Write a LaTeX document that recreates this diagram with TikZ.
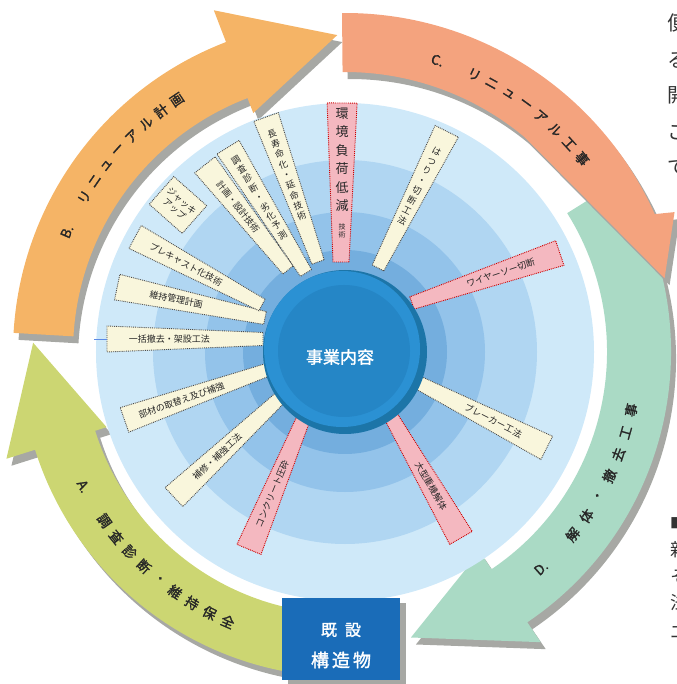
\documentclass[tikz,border=0pt]{standalone}
\usepackage{fontspec}
\setmainfont{Noto Sans CJK JP}
\newfontfamily\jpheavy{Noto Sans CJK JP}[FakeBold=1.6]

\definecolor{stageA}{HTML}{CCD672}
\definecolor{stageB}{HTML}{F5B466}
\definecolor{stageC}{HTML}{F4A37E}
\definecolor{stageD}{HTML}{AADAC5}
\definecolor{dropgray}{HTML}{A7A8A4}
\definecolor{ringA}{HTML}{CFE9F9}
\definecolor{ringB}{HTML}{B0D6F2}
\definecolor{ringC}{HTML}{93C3EA}
\definecolor{ringD}{HTML}{74AEDE}
\definecolor{hubrim}{HTML}{1C75A8}
\definecolor{hubouter}{HTML}{2B91D3}
\definecolor{hubinner}{HTML}{2586C6}
\definecolor{creamfill}{HTML}{F9F6DC}
\definecolor{pinkfill}{HTML}{F4B8C0}
\definecolor{hostblue}{HTML}{1A6CB8}

\tikzset{
  creamray/.style={fill=creamfill, draw=black!70, densely dotted, line width=0.9pt},
  pinkray/.style={fill=pinkfill, draw=red!80!black, densely dotted, line width=0.9pt},
  rayfont/.style={font=\myfontrays, align=center, inner sep=0pt, text=black!85},
  stagefont/.style={font=\myfontstages, inner sep=0pt, text=black!85},
  leaderline/.style={draw=ringD!80!blue, line width=0.8pt},
  pagefont/.style={font=\myfontpage, anchor=west, inner sep=0pt, text=black!80}
}

\begin{document}
\begin{tikzpicture}[x=1pt, y=1pt]
		\newcommand{\myfontrays}{\fontsize{9}{11}\selectfont}
		\newcommand{\myfontstages}{\jpheavy\fontsize{13.5}{13.5}\selectfont}
		\newcommand{\myfontpage}{\fontsize{20}{20}\selectfont}
		\useasboundingbox (-345,-332) rectangle (331,352);
		%Stage arrows, each one drawn twice: grey shadow, then colour
		%A: from below the box up to the left
		\foreach \dx/\dy/\col in {5/-7/dropgray, 0/0/stageA} {
			\fill[\col, shift={(\dx,\dy)}] (265:325) arc[start angle=265, end angle=197.5, radius=325]
				-- (197.5:355) -- (178.3:312) -- (197.5:250) -- (197.5:262)
				arc[start angle=197.5, end angle=265, radius=262] -- cycle;
		}
		%B: left side over the top
		\foreach \dx/\dy/\col in {5/-7/dropgray, 0/0/stageB} {
			\fill[\col, shift={(\dx,\dy)}] (176.7:332) arc[start angle=176.7, end angle=111, radius=332]
				-- (111:366) -- (91.4:317) -- (111:256) -- (111:272)
				arc[start angle=111, end angle=176.7, radius=272] -- cycle;
		}
		%D: right side down to the box (tail runs under C)
		\foreach \dx/\dy/\col in {5/-7/dropgray, 0/0/stageD} {
			\fill[\col, shift={(\dx,\dy)}] (32:326) arc[start angle=32, end angle=-56, radius=326]
				-- (-56:350) -- (-77:293) -- (-56:241) -- (-56:262)
				arc[start angle=-56, end angle=32, radius=262] -- cycle;
		}
		%C: top to the right
		\foreach \dx/\dy/\col in {5/-7/dropgray, 0/0/stageC} {
			\fill[\col, shift={(\dx,\dy)}] (90.5:339) arc[start angle=90.5, end angle=24, radius=339]
				-- (23:358) -- (13:328) -- (50:280)
				arc[start angle=50, end angle=90.5, radius=280] -- cycle;
		}
		%Stage names, one glyph at a time along the arcs
		\foreach \ch [count=\i] in {A.,{},調,査,診,断,・,維,持,保,全} {
			\pgfmathsetmacro{\ang}{207.2+(\i-1)*3.93}
			\node[stagefont, rotate=\ang+90] (labA\i) at (\ang:294) {\ch};
		}
		\foreach \ch [count=\i] in {B.,{},リ,ニ,ュ,ー,ア,ル,計,画} {
			\pgfmathsetmacro{\ang}{156.6-(\i-1)*3.66}
			\node[stagefont, rotate=\ang-90] (labB\i) at (\ang:303) {\ch};
		}
		\foreach \ch [count=\i] in {C.,{},リ,ニ,ュ,ー,ア,ル,工,事} {
			\pgfmathsetmacro{\ang}{72.4-(\i-1)*3.69}
			\node[stagefont, rotate=\ang-90] (labC\i) at (\ang:306) {\ch};
		}
		\foreach \ch [count=\i] in {D.,{},解,体,・,撤,去,工,事} {
			\pgfmathsetmacro{\ang}{-47.8+(\i-1)*4.54}
			\node[stagefont, rotate=\ang+90] (labD\i) at (\ang:292) {\ch};
		}
		%Blue disc, outside in
		\fill[ringA] (0,0) circle[radius=249];
		\fill[ringB] (0,0) circle[radius=192];
		\fill[ringC] (0,0) circle[radius=140];
		\fill[ringD] (0,0) circle[radius=102];
		%Rays: inner end, angle, length, look, text turn, text
		\foreach \n/\x/\y/\a/\l/\kind/\turn/\txt in {
			2/33/84/63.3/153/creamray/-90/{は\\つ\\り\\・\\切\\断\\工\\法},
			3/67/49/18.7/156/pinkray/0/{ワイヤーソー切断},
			4/68/-28/-26.9/150/creamray/0/{ブレーカー工法},
			5/41/-56/-60/150/pinkray/0/{大型重機解体},
			6/-38/-58/-112.6/151/pinkray/180/{コンクリート圧砕},
			7/-63/-44/-136.9/148/creamray/180/{補修・補強工法},
			8/-78/-18/-160.7/151/creamray/180/{部材の取替え及び補強},
			9/-82/13/180/156/creamray/180/{一括撤去・架設工法},
			10/-80/34/168.2/151/creamray/180/{維持管理計画},
			11/-83/47/151.8/144/creamray/180/{プレキャスト化技術},
			13/-57/82/128.3/134/creamray/180/{計画・設計技術},
			14/-39/79/121.8/148/creamray/-90/{調\\査\\診\\断\\・\\劣\\化\\予\\測},
			15/-27/90/109.7/154/creamray/-90/{長\\寿\\命\\化\\・\\延\\命\\技\\術}} {
			\begin{scope}[shift={(\x,\y)}, rotate=\a]
				\draw[\kind] (0,-6.5) -- (\l,-13) -- (\l,13) -- (0,6.5) -- cycle;
				\coordinate (rayend\n) at (\l,0);
				\node[rayfont, transform shape, rotate=\turn] (ray\n) at (0.6*\l,0) {\txt};
			\end{scope}
		}
		%Top ray, written downwards
		\begin{scope}[shift={(-4,90)}, rotate=89.6]
			\draw[pinkray] (0,-8) -- (159,-15) -- (159,15) -- (0,8) -- cycle;
		\end{scope}
		\node[rayfont, font=\fontsize{13}{18.5}\selectfont] (ray1) at (-3,192) {環\\境\\負\\荷\\低\\減};
		\node[rayfont, font=\fontsize{7}{8}\selectfont] (ray1b) at (-3,121) {技\\術};
		%Short block on the upper left
		\node[creamray, rayfont, rotate=-41.5, minimum width=44, minimum height=37] (ray12) at (-167,147) {ジャッキ\\アップ};
		%Leader off the horizontal ray
		\coordinate (tick) at (-251,13);
		\draw[leaderline] (rayend9) -- (tick);
		%Hub
		\fill[hubrim] (0,0) circle[radius=82];
		\fill[hubouter] (-3,3) circle[radius=78];
		\fill[hubinner] (-1,1) circle[radius=66];
		\node[text=white, font=\jpheavy\fontsize{17}{17}\selectfont, inner sep=0pt] (core) at (-5,-5) {事業内容};
		%Box at the foot of the cycle
		\fill[dropgray] (-57,-333) rectangle (61,-251);
		\node[fill=hostblue, minimum width=118, minimum height=82, inner sep=0pt] (host) at (-4,-287) {};
		\node[text=white, font=\jpheavy\fontsize{16}{16}\selectfont, inner sep=0pt] (host1) at (-4,-278) {既\hspace{8pt}設};
		\node[text=white, font=\jpheavy\fontsize{18}{18}\selectfont, inner sep=0pt] (host2) at (-4,-308) {構\hspace{3pt}造\hspace{3pt}物};
		%Neighbouring page text, cut at the edge
		\node[pagefont] (page1) at (322,329) {便};
		\node[pagefont] (page2) at (322,292) {る};
		\node[pagefont] (page3) at (322,257) {開};
		\node[pagefont] (page4) at (322,219) {こ};
		\node[pagefont] (page5) at (322,184) {で};
		\node[pagefont, font=\fontsize{14}{14}\selectfont] (page6) at (325,-171) {■};
		\node[pagefont, font=\fontsize{18}{18}\selectfont] (page7) at (325,-198) {新};
		\node[pagefont, font=\fontsize{18}{18}\selectfont] (page8) at (325,-225) {そ};
		\node[pagefont, font=\fontsize{18}{18}\selectfont] (page9) at (325,-251) {法};
		\node[pagefont, font=\fontsize{18}{18}\selectfont] (page10) at (325,-280) {エ};
\end{tikzpicture}
\end{document}
